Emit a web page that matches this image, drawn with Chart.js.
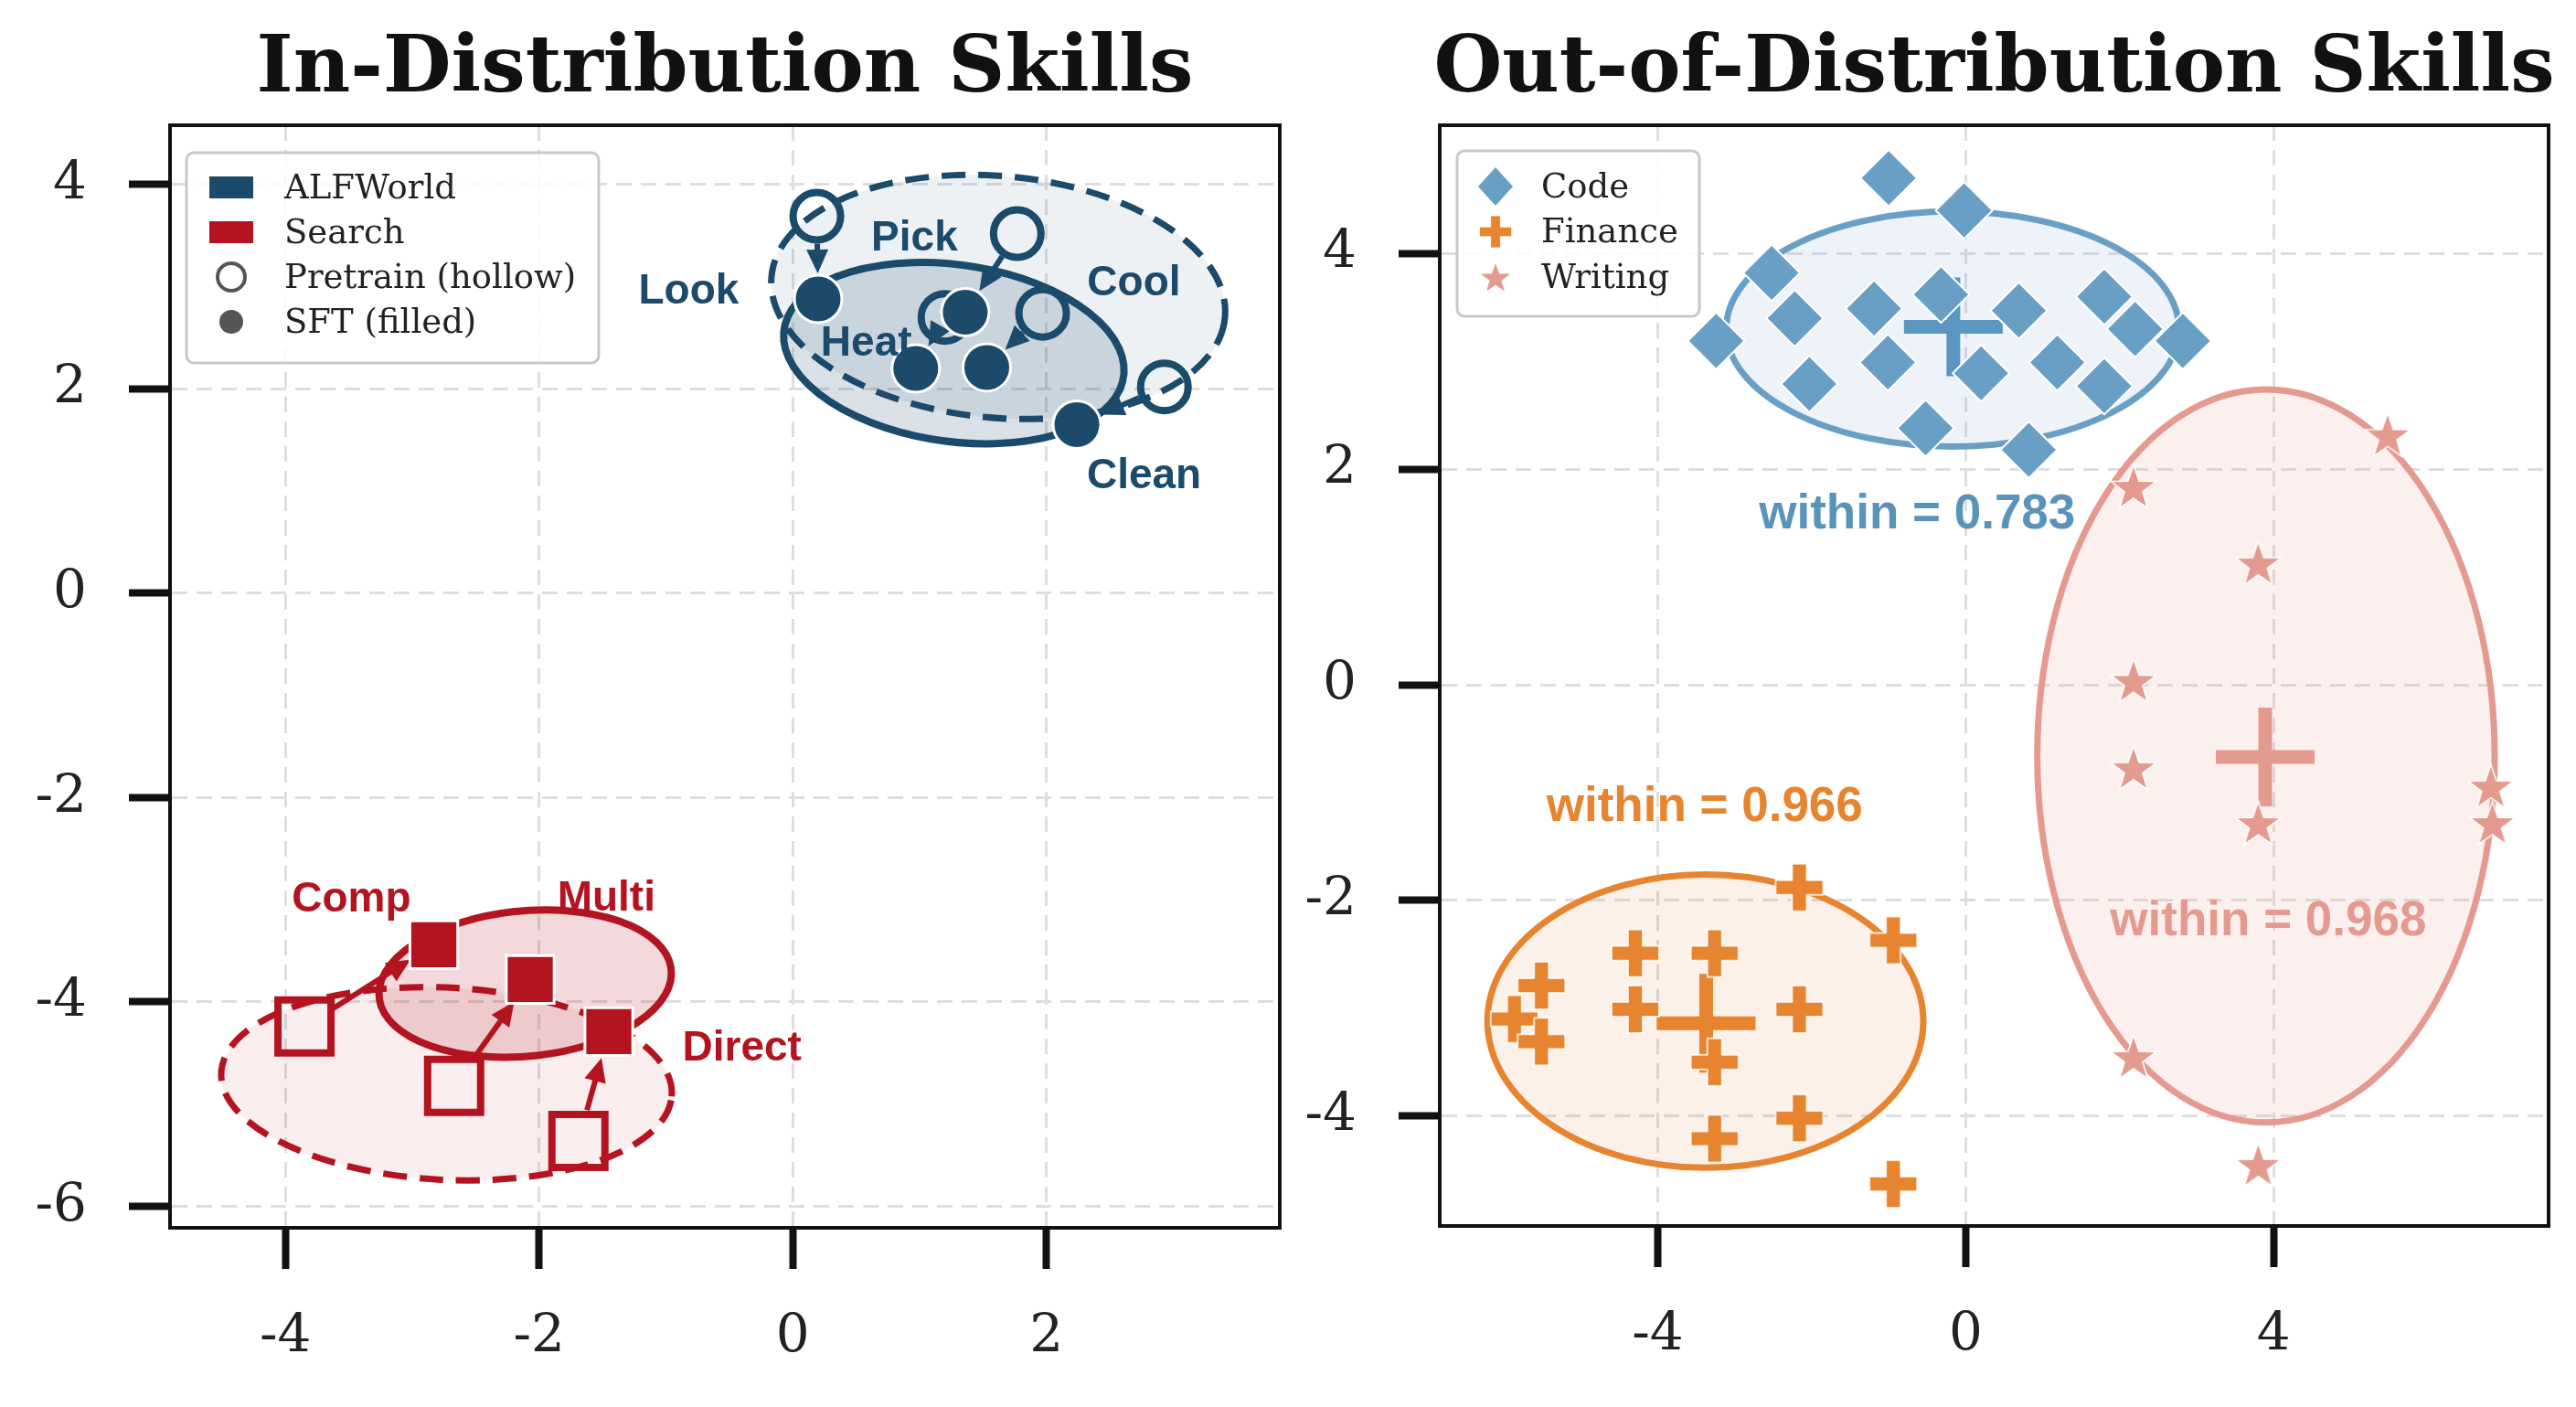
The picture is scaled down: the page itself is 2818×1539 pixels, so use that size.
<!DOCTYPE html>
<html>
<head>
<meta charset="utf-8">
<title>In-Distribution vs Out-of-Distribution Skills</title>
<script src="https://cdn.jsdelivr.net/npm/chart.js@4.4.1/dist/chart.umd.min.js"></script>
<style>
  html, body { margin: 0; padding: 0; background: #fff; overflow: hidden; }
  .panel { position: absolute; top: 0; }
</style>
</head>
<body>
<canvas id="inDist" class="panel" width="1409" height="1539" style="left:0"></canvas>
<canvas id="outDist" class="panel" width="1409" height="1539" style="left:1409px"></canvas>
<script>
// ---------- In-Distribution Skills ----------
const alfSkills = ['Look', 'Pick', 'Heat', 'Cool', 'Clean'];
const alfPretrainX = [0.19, 1.77, 1.20, 1.97, 2.93];
const alfPretrainY = [3.69, 3.52, 2.70, 2.74, 2.02];
const alfSftX = [0.20, 1.36, 0.97, 1.53, 2.24];
const alfSftY = [2.88, 2.75, 2.20, 2.21, 1.65];
const alfLabelX = [-0.82, 0.96, 0.58, 2.69, 2.77];
const alfLabelY = [2.95, 3.47, 2.44, 3.03, 1.14];

const searchSkills = ['Comp', 'Multi', 'Direct'];
const searchPretrainX = [-3.85, -2.67, -1.69];
const searchPretrainY = [-4.24, -4.82, -5.36];
const searchSftX = [-2.83, -2.07, -1.45];
const searchSftY = [-3.44, -3.78, -4.29];
const searchLabelX = [-3.48, -1.47, -0.40];
const searchLabelY = [-3.00, -2.99, -4.46];

// spread ellipses: centre x, centre y, semi-axis x, semi-axis y, tilt (deg)
const alfPretrainEll = [1.62, 2.90, 1.80, 1.18, -8];
const alfSftEll = [1.27, 2.35, 1.36, 0.86, -12];
const searchPretrainEll = [-2.73, -4.80, 1.78, 0.94, -4];
const searchSftEll = [-2.11, -3.82, 1.16, 0.71, 8];

const inXTicks = [-4, -2, 0, 2];
const inYTicks = [-6, -4, -2, 0, 2, 4];
const inXRange = [-4.91, 3.84];
const inYRange = [-6.21, 4.58];

// ---------- Out-of-Distribution Skills ----------
const codeX = [-1.00, -0.02, -2.52, -2.22, -3.24, -1.19, -0.32, 0.69, 1.80, 2.20, 2.82, -1.01, 0.20, 1.19, -2.03, 1.80, -0.52, 0.82];
const codeY = [4.70, 4.40, 3.82, 3.40, 3.19, 3.49, 3.62, 3.47, 3.60, 3.30, 3.19, 2.99, 2.89, 2.99, 2.79, 2.77, 2.38, 2.18];
const financeX = [-2.16, -0.94, -4.29, -3.26, -5.51, -4.29, -2.16, -5.86, -5.51, -3.26, -2.16, -3.26, -0.94];
const financeY = [-1.88, -2.37, -2.49, -2.49, -2.79, -3.01, -3.01, -3.10, -3.31, -3.50, -4.02, -4.21, -4.63];
const writingX = [5.48, 2.18, 3.80, 2.18, 2.18, 6.82, 6.84, 3.80, 2.18, 3.80];
const writingY = [2.32, 1.84, 1.13, 0.04, -0.77, -0.94, -1.28, -1.28, -3.45, -4.45];

const domainNames = ['Code', 'Finance', 'Writing'];
const centroidX = [-0.16, -3.37, 3.89];
const centroidY = [3.32, -3.14, -0.67];
const withinScores = [0.783, 0.966, 0.968];
const withinX = [-0.63, -3.39, 3.93];
const withinY = [1.57, -1.14, -2.20];

const codeEll = [-0.17, 3.30, 2.94, 1.09, 0];
const financeEll = [-3.38, -3.12, 2.83, 1.36, 0];
const writingEll = [3.90, -0.66, 2.97, 3.40, 0];

const outXTicks = [-4, 0, 4];
const outYTicks = [-4, -2, 0, 2, 4];
const outXRange = [-6.83, 7.57];
const outYRange = [-5.02, 5.19];

// ---------- styling ----------
const NAVY = '#1b4a6b', RED = '#b3141f';
const BLUE = '#6a9fc5', ORANGE = '#e6842f', SALMON = '#e49a8e';
const SERIF = '"DejaVu Serif", serif';
const SANS = '"Liberation Sans", Arial, sans-serif';

Chart.defaults.font.family = SERIF;

const pts = (xs, ys) => xs.map((x, i) => ({x: x, y: ys[i]}));

function starMarker(r, color) {
  const c = document.createElement('canvas');
  const s = Math.ceil(r * 2 + 4);
  c.width = c.height = s;
  const g = c.getContext('2d');
  g.translate(s / 2, s / 2 + r * 0.1);
  g.beginPath();
  for (let i = 0; i < 10; i++) {
    const rr = i % 2 ? r * 0.4 : r;
    const a = -Math.PI / 2 + i * Math.PI / 5;
    g.lineTo(rr * Math.cos(a), rr * Math.sin(a));
  }
  g.closePath();
  g.fillStyle = color;
  g.fill();
  g.lineWidth = 1.5;
  g.strokeStyle = '#fff';
  g.stroke();
  return c;
}

function plusMarker(r, t, color) {
  const c = document.createElement('canvas');
  const s = Math.ceil(r * 2 + 4);
  c.width = c.height = s;
  const g = c.getContext('2d');
  g.translate(s / 2, s / 2);
  const h = t / 2;
  g.beginPath();
  g.moveTo(-h, -r); g.lineTo(h, -r); g.lineTo(h, -h); g.lineTo(r, -h); g.lineTo(r, h);
  g.lineTo(h, h); g.lineTo(h, r); g.lineTo(-h, r); g.lineTo(-h, h); g.lineTo(-r, h);
  g.lineTo(-r, -h); g.lineTo(-h, -h);
  g.closePath();
  g.fillStyle = color;
  g.fill();
  g.lineWidth = 1.5;
  g.strokeStyle = '#fff';
  g.stroke();
  return c;
}

const starImg = starMarker(26, SALMON);
const plusImg = plusMarker(26, 16, ORANGE);

function drawEllipse(chart, e, color, fill, dashed, width) {
  const {ctx, scales} = chart;
  const cx = scales.x.getPixelForValue(e[0]);
  const cy = scales.y.getPixelForValue(e[1]);
  const kx = Math.abs(scales.x.getPixelForValue(1) - scales.x.getPixelForValue(0));
  const ky = Math.abs(scales.y.getPixelForValue(1) - scales.y.getPixelForValue(0));
  ctx.save();
  ctx.beginPath();
  ctx.save();
  ctx.translate(cx, cy);
  ctx.scale(kx, -ky);
  ctx.rotate(e[4] * Math.PI / 180);
  ctx.ellipse(0, 0, e[2], e[3], 0, 0, Math.PI * 2);
  ctx.restore();
  ctx.fillStyle = fill;
  ctx.fill();
  ctx.lineWidth = width;
  ctx.strokeStyle = color;
  ctx.setLineDash(dashed ? [26, 14] : []);
  ctx.stroke();
  ctx.restore();
}

function drawArrow(chart, x0, y0, x1, y1, color, gap0, gap1) {
  const {ctx, scales} = chart;
  const ax = scales.x.getPixelForValue(x0), ay = scales.y.getPixelForValue(y0);
  const bx = scales.x.getPixelForValue(x1), by = scales.y.getPixelForValue(y1);
  const d = Math.hypot(bx - ax, by - ay);
  const ux = (bx - ax) / d, uy = (by - ay) / d;
  const sx = ax + ux * gap0, sy = ay + uy * gap0;
  const ex = bx - ux * gap1, ey = by - uy * gap1;
  const head = 26, half = 12;
  ctx.save();
  ctx.lineWidth = 6;
  ctx.strokeStyle = color;
  ctx.fillStyle = color;
  ctx.beginPath();
  ctx.moveTo(sx, sy);
  ctx.lineTo(ex - ux * head * 0.8, ey - uy * head * 0.8);
  ctx.stroke();
  ctx.beginPath();
  ctx.moveTo(ex, ey);
  ctx.lineTo(ex - ux * head - uy * half, ey - uy * head + ux * half);
  ctx.lineTo(ex - ux * head + uy * half, ey - uy * head - ux * half);
  ctx.closePath();
  ctx.fill();
  ctx.restore();
}

function roundBox(ctx, x, y, w, h, r) {
  ctx.beginPath();
  ctx.moveTo(x + r, y);
  ctx.arcTo(x + w, y, x + w, y + h, r);
  ctx.arcTo(x + w, y + h, x, y + h, r);
  ctx.arcTo(x, y + h, x, y, r);
  ctx.arcTo(x, y, x + w, y, r);
  ctx.closePath();
}

function decorPlugin(cfg) {
  return {
    id: 'decor',
    beforeDatasetsDraw(chart) {
      cfg.ellipses.forEach(e => drawEllipse(chart, e.shape, e.color, e.fill, e.dashed, e.width));
      cfg.arrows.forEach(a => drawArrow(chart, a[0], a[1], a[2], a[3], a[4], a[5], a[6]));
    },
    afterDatasetsDraw(chart) {
      const ctx = chart.ctx;
      ctx.save();
      ctx.textAlign = 'center';
      ctx.textBaseline = 'middle';
      cfg.texts.forEach(t => {
        ctx.font = t.font;
        ctx.fillStyle = t.color;
        ctx.fillText(t.text, chart.scales.x.getPixelForValue(t.x), chart.scales.y.getPixelForValue(t.y));
      });
      ctx.restore();
    },
    afterDraw(chart) {
      const {ctx, chartArea: a} = chart;
      ctx.save();
      // full frame
      ctx.lineWidth = 4;
      ctx.strokeStyle = '#111';
      ctx.strokeRect(a.left, a.top, a.right - a.left, a.bottom - a.top);
      // title
      ctx.font = 'bold 86px ' + SERIF;
      ctx.fillStyle = '#111';
      ctx.textAlign = 'center';
      ctx.textBaseline = 'alphabetic';
      ctx.fillText(cfg.title, (a.left + a.right) / 2, 100);
      // legend
      const lg = cfg.legend;
      const x0 = a.left + lg.dx, y0 = a.top + lg.dy;
      roundBox(ctx, x0, y0, lg.w, lg.h, 8);
      ctx.fillStyle = 'rgba(255,255,255,0.85)';
      ctx.fill();
      ctx.lineWidth = 3;
      ctx.strokeStyle = '#c8c8c8';
      ctx.stroke();
      ctx.font = '37px ' + SERIF;
      ctx.textAlign = 'left';
      ctx.textBaseline = 'middle';
      lg.items.forEach((it, i) => {
        const y = y0 + lg.first + i * lg.step;
        it.marker(ctx, x0 + lg.markerX, y);
        ctx.fillStyle = '#222';
        ctx.fillText(it.label, x0 + lg.textX, y + 2);
      });
      ctx.restore();
    }
  };
}

function axisOptions(xTicks, yTicks, xRange, yRange, yWidth, xHeight) {
  const common = vals => ({
    type: 'linear',
    grid: { color: '#dedede', lineWidth: 3, drawTicks: true, tickLength: 45, tickWidth: 8, tickColor: '#111', tickBorderDash: [] },
    border: { display: true, color: '#111', width: 4, dash: [17, 10] },
    ticks: { font: { family: SERIF, size: 58 }, color: '#222', padding: 46, includeBounds: false },
    afterBuildTicks: s => { s.ticks = vals.map(v => ({ value: v })); }
  });
  const x = Object.assign(common(xTicks), { min: xRange[0], max: xRange[1],
    afterFit: s => { s.height = xHeight; s.paddingLeft = 0; s.paddingRight = 0; } });
  x.ticks.padding = 40;
  const y = Object.assign(common(yTicks), { min: yRange[0], max: yRange[1],
    afterFit: s => { s.width = yWidth; s.paddingTop = 0; s.paddingBottom = 0; } });
  return { x: x, y: y };
}

// ---------- left chart ----------
const leftArrows = [];
alfSkills.forEach((s, i) => leftArrows.push([alfPretrainX[i], alfPretrainY[i], alfSftX[i], alfSftY[i], NAVY, 30, 28]));
searchSkills.forEach((s, i) => leftArrows.push([searchPretrainX[i], searchPretrainY[i], searchSftX[i], searchSftY[i], RED, 35, 30]));

const leftTexts = [];
alfSkills.forEach((s, i) => leftTexts.push({ text: s, x: alfLabelX[i], y: alfLabelY[i], color: NAVY, font: 'bold 46px ' + SANS }));
searchSkills.forEach((s, i) => leftTexts.push({ text: s, x: searchLabelX[i], y: searchLabelY[i], color: RED, font: 'bold 46px ' + SANS }));

new Chart(document.getElementById('inDist'), {
  type: 'scatter',
  data: {
    datasets: [
      { label: 'ALFWorld SFT', data: pts(alfSftX, alfSftY), pointStyle: 'circle', pointRadius: 26,
        backgroundColor: NAVY, borderColor: '#fff', borderWidth: 3 },
      { label: 'Search SFT', data: pts(searchSftX, searchSftY), pointStyle: 'rect', pointRadius: 37,
        backgroundColor: RED, borderColor: '#fff', borderWidth: 3 },
      { label: 'ALFWorld Pretrain', data: pts(alfPretrainX, alfPretrainY), pointStyle: 'circle', pointRadius: 26,
        backgroundColor: 'rgba(255,255,255,0)', borderColor: NAVY, borderWidth: 8 },
      { label: 'Search Pretrain', data: pts(searchPretrainX, searchPretrainY), pointStyle: 'rect', pointRadius: 41,
        backgroundColor: 'rgba(255,255,255,0)', borderColor: RED, borderWidth: 8 }
    ]
  },
  options: {
    responsive: false,
    animation: false,
    events: [],
    layout: { autoPadding: false, padding: { top: 137, right: 9, left: 0, bottom: 0 } },
    plugins: { legend: { display: false }, tooltip: { enabled: false } },
    scales: axisOptions(inXTicks, inYTicks, inXRange, inYRange, 186, 196)
  },
  plugins: [decorPlugin({
    title: 'In-Distribution Skills',
    ellipses: [
      { shape: alfPretrainEll, color: NAVY, fill: 'rgba(27,74,107,0.08)', dashed: true, width: 7 },
      { shape: alfSftEll, color: NAVY, fill: 'rgba(27,74,107,0.17)', dashed: false, width: 8 },
      { shape: searchPretrainEll, color: RED, fill: 'rgba(179,20,31,0.08)', dashed: true, width: 7 },
      { shape: searchSftEll, color: RED, fill: 'rgba(179,20,31,0.16)', dashed: false, width: 8 }
    ],
    arrows: leftArrows,
    texts: leftTexts,
    legend: {
      dx: 18, dy: 30, w: 451, h: 230, first: 38, step: 49, markerX: 49, textX: 107,
      items: [
        { label: 'ALFWorld', marker: (c, x, y) => { c.fillStyle = NAVY; c.fillRect(x - 24, y - 12, 48, 24); } },
        { label: 'Search', marker: (c, x, y) => { c.fillStyle = RED; c.fillRect(x - 24, y - 12, 48, 24); } },
        { label: 'Pretrain (hollow)', marker: (c, x, y) => {
            c.beginPath(); c.arc(x, y, 15, 0, Math.PI * 2);
            c.fillStyle = '#fff'; c.fill(); c.lineWidth = 4; c.strokeStyle = '#555'; c.stroke(); } },
        { label: 'SFT (filled)', marker: (c, x, y) => {
            c.beginPath(); c.arc(x, y, 13, 0, Math.PI * 2); c.fillStyle = '#555'; c.fill(); } }
      ]
    }
  })]
});

// ---------- right chart ----------
const rightTexts = withinScores.map((w, i) => ({
  text: 'within = ' + w.toFixed(3), x: withinX[i], y: withinY[i],
  color: ['#5a93b9', ORANGE, SALMON][i], font: 'bold 53px ' + SANS
}));

new Chart(document.getElementById('outDist'), {
  type: 'scatter',
  data: {
    datasets: [
      { label: 'Code', data: pts(codeX, codeY), pointStyle: 'rectRot', pointRadius: 31,
        backgroundColor: BLUE, borderColor: '#fff', borderWidth: 2 },
      { label: 'Finance', data: pts(financeX, financeY), pointStyle: plusImg, pointRadius: 26 },
      { label: 'Writing', data: pts(writingX, writingY), pointStyle: starImg, pointRadius: 26 },
      { label: 'Centroid', data: pts(centroidX, centroidY), pointStyle: 'cross', pointRadius: 54,
        borderColor: ['#5a96bf', ORANGE, SALMON], borderWidth: 15 }
    ]
  },
  options: {
    responsive: false,
    animation: false,
    events: [],
    layout: { autoPadding: false, padding: { top: 137, right: 30, left: 0, bottom: 0 } },
    plugins: { legend: { display: false }, tooltip: { enabled: false } },
    scales: axisOptions(outXTicks, outYTicks, outXRange, outYRange, 166, 198)
  },
  plugins: [decorPlugin({
    title: 'Out-of-Distribution Skills',
    ellipses: [
      { shape: codeEll, color: BLUE, fill: 'rgba(106,159,197,0.12)', dashed: false, width: 7 },
      { shape: financeEll, color: ORANGE, fill: 'rgba(230,132,47,0.11)', dashed: false, width: 7 },
      { shape: writingEll, color: SALMON, fill: 'rgba(228,154,142,0.15)', dashed: false, width: 7 }
    ],
    arrows: [],
    texts: rightTexts,
    legend: {
      dx: 19, dy: 28, w: 265, h: 181, first: 39, step: 49.5, markerX: 42, textX: 92,
      items: [
        { label: domainNames[0], marker: (c, x, y) => {
            c.beginPath(); c.moveTo(x, y - 21); c.lineTo(x + 19, y); c.lineTo(x, y + 21); c.lineTo(x - 19, y);
            c.closePath(); c.fillStyle = BLUE; c.fill(); } },
        { label: domainNames[1], marker: (c, x, y) => { c.drawImage(plusImg, x - 19, y - 19, 38, 38); } },
        { label: domainNames[2], marker: (c, x, y) => { c.drawImage(starImg, x - 20, y - 20, 40, 40); } }
      ]
    }
  })]
});
</script>
</body>
</html>
